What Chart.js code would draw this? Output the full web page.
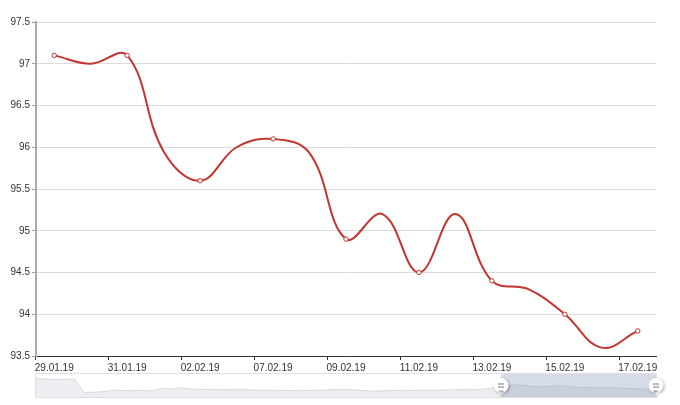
<!DOCTYPE html>
<html>
<head>
<meta charset="utf-8">
<script src="https://cdn.jsdelivr.net/npm/chart.js@4/dist/chart.umd.min.js"></script>
<style>
  html, body { margin: 0; padding: 0; background: #fff; }
  #wrap { position: relative; width: 680px; height: 405px; }
  #main { position: absolute; left: 0; top: 0; }
  #zoom { position: absolute; left: 0; top: 365px; }
</style>
</head>
<body>
<div id="wrap">
  <canvas id="main" width="680" height="405"></canvas>
  <canvas id="zoom" width="680" height="40"></canvas>
</div>
<script>
// dates shown in the zoomed window (every second one gets a label)
const dates = [
  '29.01.19', '30.01.19', '31.01.19', '01.02.19', '02.02.19', '06.02.19',
  '07.02.19', '08.02.19', '09.02.19', '10.02.19', '11.02.19', '12.02.19',
  '13.02.19', '14.02.19', '15.02.19', '16.02.19', '17.02.19'
];
const values = [
  97.1, 97.0, 97.1, 95.95, 95.6, 96.0,
  96.1, 95.93, 94.9, 95.2, 94.5, 95.2,
  94.4, 94.3, 94.0, 93.6, 93.8
];
// y ticks
const yMin = 93.5;
const yMax = 97.5;
const yStep = 0.5;

// earlier history, only visible in the slider shadow
const historyValues = [
  102.5, 102.0, 101.4, 101.8, 101.6, 90.8, 91.2, 91.7, 92.8, 92.6,
  92.4, 92.7, 92.2, 94.2, 93.8, 94.9, 93.8, 93.6, 93.5, 93.4,
  93.2, 93.2, 93.1, 92.8, 92.8, 92.6, 92.6, 92.4, 92.6, 92.8,
  93.0, 93.4, 93.5, 93.0, 92.4, 92.2, 92.4, 92.6, 92.7, 92.6,
  92.8, 92.8, 93.0, 93.1, 93.2, 93.2, 93.6, 94.5
];

const RED = '#c23531';
const FONT = { family: '"Liberation Sans", Arial, sans-serif', size: 10 };

new Chart(document.getElementById('main'), {
  type: 'line',
  data: {
    labels: dates,
    datasets: [{
      data: values,
      borderColor: RED,
      borderWidth: 2,
      tension: 0.4,
      fill: false,
      pointRadius: ctx => ctx.dataIndex % 2 === 0 ? 2.2 : 0,
      pointBackgroundColor: '#fff',
      pointBorderColor: RED,
      pointBorderWidth: 1
    }]
  },
  options: {
    responsive: false,
    animation: false,
    layout: { padding: { left: 0, right: 24, top: 22, bottom: 0 } },
    plugins: { legend: { display: false }, tooltip: { enabled: false } },
    scales: {
      x: {
        offset: true,
        grid: {
          offset: true,
          drawOnChartArea: false,
          tickLength: 4,
          tickColor: ctx => (ctx.index !== undefined && ctx.index % 2 === 0) ? '#333' : 'rgba(0,0,0,0)'
        },
        border: { color: '#333', width: 1 },
        ticks: {
          autoSkip: false,
          maxRotation: 0,
          padding: 2,
          color: '#333',
          font: FONT,
          callback: function(v, i) { return i % 2 === 0 ? this.getLabelForValue(v) : ''; }
        },
        afterFit: s => { s.height = 49; }
      },
      y: {
        min: yMin,
        max: yMax,
        grid: { color: '#dcdcdc', tickLength: 4, tickColor: '#999' },
        border: { color: '#aaa', width: 2 },
        ticks: {
          stepSize: yStep,
          padding: 2,
          color: '#333',
          font: FONT,
          callback: v => String(Math.round(v * 10) / 10)
        },
        afterFit: s => { s.width = 36; }
      }
    }
  }
});

// slider: full history with the selected window highlighted
const allValues = historyValues.concat(values);
const allLabels = allValues.map((v, i) => i);
const lo = Math.min(...allValues), hi = Math.max(...allValues);
const pad = (hi - lo) * 0.3;
const startIdx = historyValues.length;
const endIdx = allValues.length - 1;

const sliderDeco = {
  id: 'sliderDeco',
  afterDatasetsDraw(chart) {
    const { ctx, chartArea: a, scales: { x } } = chart;
    const x0 = x.getPixelForValue(startIdx);
    const x1 = x.getPixelForValue(endIdx);
    ctx.save();
    ctx.fillStyle = 'rgba(120,140,175,0.3)';
    ctx.fillRect(x0, a.top, x1 - x0, a.bottom - a.top);
    ctx.strokeStyle = '#dde1e6';
    ctx.lineWidth = 1;
    ctx.strokeRect(a.left - 0.5, a.top - 0.5, a.right - a.left + 1, a.bottom - a.top + 1);
    const cy = (a.top + a.bottom) / 2;
    [x0, x1].forEach(hx => {
      ctx.save();
      ctx.shadowColor = 'rgba(0,0,0,0.35)';
      ctx.shadowBlur = 3;
      ctx.shadowOffsetX = 1;
      ctx.shadowOffsetY = 1;
      ctx.fillStyle = '#fff';
      ctx.beginPath();
      ctx.arc(hx, cy, 7.5, 0, Math.PI * 2);
      ctx.moveTo(hx - 3, cy + 5);
      ctx.lineTo(hx, cy + 9.5);
      ctx.lineTo(hx + 3, cy + 5);
      ctx.fill();
      ctx.restore();
      ctx.strokeStyle = '#777';
      ctx.lineWidth = 1;
      ctx.beginPath();
      ctx.moveTo(hx - 3, cy - 1.5); ctx.lineTo(hx + 3, cy - 1.5);
      ctx.moveTo(hx - 3, cy + 1.5); ctx.lineTo(hx + 3, cy + 1.5);
      ctx.stroke();
    });
    ctx.restore();
  }
};

new Chart(document.getElementById('zoom'), {
  type: 'line',
  data: {
    labels: allLabels,
    datasets: [{
      data: allValues,
      borderColor: '#cfd3d8',
      borderWidth: 0.8,
      backgroundColor: '#eceef1',
      fill: 'start',
      tension: 0,
      pointRadius: 0
    }]
  },
  options: {
    responsive: false,
    animation: false,
    layout: { padding: { left: 36, right: 24, top: 9, bottom: 8 } },
    plugins: { legend: { display: false }, tooltip: { enabled: false } },
    scales: {
      x: { display: false },
      y: { display: false, min: lo - pad, max: hi + pad }
    }
  },
  plugins: [sliderDeco]
});
</script>
</body>
</html>
